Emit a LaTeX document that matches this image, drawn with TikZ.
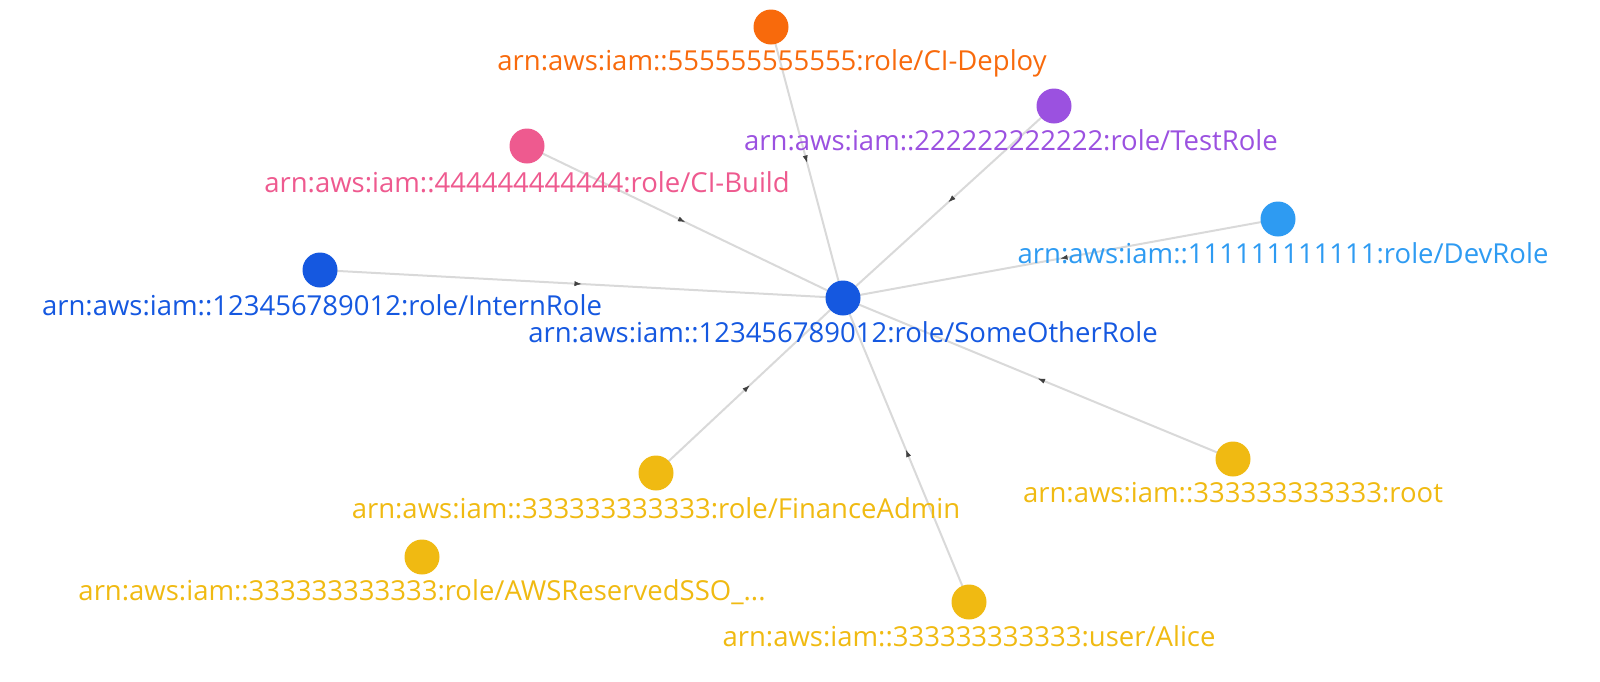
\documentclass[tikz,border=0pt]{standalone}
\usepackage{fontspec}
\setmainfont{Open Sans}
\usetikzlibrary{decorations.markings,arrows.meta}
\definecolor{corange}{HTML}{F86A0C}
\definecolor{cpurple}{HTML}{9B51E0}
\definecolor{cpink}{HTML}{EE5A8F}
\definecolor{clblue}{HTML}{2E9BF2}
\definecolor{cblue}{HTML}{1558E0}
\definecolor{cyellow}{HTML}{F0BA12}
\definecolor{cedge}{HTML}{D9D9D9}
\begin{document}
\begin{tikzpicture}[x=1pt,y=-1pt,
 dot/.style={circle,minimum size=35pt,inner sep=0pt,fill=#1},
 lab/.style={text=#1,font=\fontsize{27.5}{30}\selectfont,inner sep=0pt},
 edge/.style={draw=cedge,line width=2pt,postaction={decorate},
   decoration={markings,mark=at position 0.5 with {\arrow[black!75,line width=0.5pt]{Latex[length=7pt,width=5pt]}}}}]
\useasboundingbox (0,0) rectangle (1600,681);
\coordinate (c) at (843,298);
\coordinate (p1) at (771,27);
\coordinate (p2) at (1054,106);
\coordinate (p3) at (527,146);
\coordinate (p4) at (1278,219);
\coordinate (p5) at (320,270);
\coordinate (p6) at (656,473);
\coordinate (p7) at (1233,459);
\coordinate (p9) at (969,602);
\foreach \p in {p1,p2,p3,p4,p5,p6,p7,p9} \draw[edge] (\p) -- (c);
\node[lab=corange] (l1) at (772,63) {arn:aws:iam::555555555555:role/CI-Deploy};
\node[lab=cpurple] (l2) at (1011,140) {arn:aws:iam::222222222222:role/TestRole};
\node[lab=cpink] (l3) at (527,182) {arn:aws:iam::444444444444:role/CI-Build};
\node[lab=clblue] (l4) at (1283,253) {arn:aws:iam::111111111111:role/DevRole};
\node[lab=cblue] (l5) at (322,305) {arn:aws:iam::123456789012:role/InternRole};
\node[lab=cblue] (l0) at (843,332) {arn:aws:iam::123456789012:role/SomeOtherRole};
\node[lab=cyellow] (l6) at (656,508) {arn:aws:iam::333333333333:role/FinanceAdmin};
\node[lab=cyellow] (l7) at (1233,493) {arn:aws:iam::333333333333:root};
\node[lab=cyellow] (l8) at (422,592) {arn:aws:iam::333333333333:role/AWSReservedSSO\_...};
\node[lab=cyellow] (l9) at (969,636) {arn:aws:iam::333333333333:user/Alice};
\node[dot=cblue] (n0) at (c) {};
\node[dot=corange] (n1) at (p1) {};
\node[dot=cpurple] (n2) at (p2) {};
\node[dot=cpink] (n3) at (p3) {};
\node[dot=clblue] (n4) at (p4) {};
\node[dot=cblue] (n5) at (p5) {};
\node[dot=cyellow] (n6) at (p6) {};
\node[dot=cyellow] (n7) at (p7) {};
\node[dot=cyellow] (n8) at (422,557) {};
\node[dot=cyellow] (n9) at (p9) {};
\end{tikzpicture}
\end{document}
